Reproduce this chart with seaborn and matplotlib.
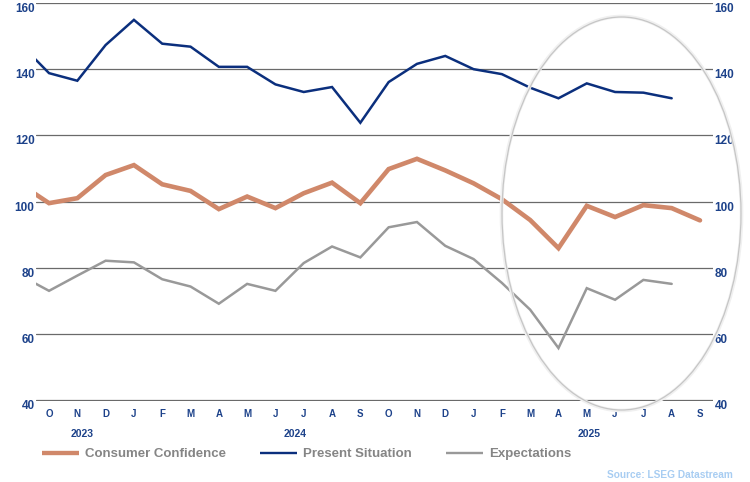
import numpy as np
import pandas as pd
import matplotlib
matplotlib.use("Agg")
import matplotlib.pyplot as plt
from matplotlib.patches import Ellipse
import seaborn as sns

# --- DATA ---
# monthly points, Sep 2023 .. Sep 2025 (Sep 2023 sits just outside the left edge)
month_labels = ["S", "O", "N", "D", "J", "F", "M", "A", "M", "J", "J", "A", "S",
                "O", "N", "D", "J", "F", "M", "A", "M", "J", "J", "A", "S"]
consumer_confidence = [105.2, 99.5, 101.0, 108.0, 111.0, 105.2, 103.2, 97.7, 101.5, 98.0,
                       102.5, 105.7, 99.5, 109.8, 112.9, 109.4, 105.5, 100.7, 94.4, 85.9,
                       98.7, 95.3, 98.9, 98.0, 94.3]
present_situation = [147.5, 138.8, 136.5, 147.3, 154.9, 147.7, 146.8, 140.7, 140.7, 135.4,
                     133.1, 134.6, 123.8, 136.1, 141.6, 144.0, 140.0, 138.5, 134.4, 131.2,
                     135.7, 133.1, 132.9, 131.2, np.nan]
expectations = [77.6, 73.0, 77.6, 82.1, 81.6, 76.5, 74.3, 69.1, 75.1, 73.0,
                81.4, 86.4, 83.1, 92.2, 93.8, 86.6, 82.6, 75.4, 67.3, 55.7,
                73.8, 70.3, 76.3, 75.1, np.nan]
year_labels = ["2023", "2024", "2025"]
year_x = [1.17, 8.7, 19.1]
y_ticks = [40, 60, 80, 100, 120, 140, 160]
source_text = "Source: LSEG Datastream"

# --- STYLE ---
NAVY_TXT = "#1d428a"
SERIES = ["Consumer Confidence", "Present Situation", "Expectations"]
COLORS = {"Consumer Confidence": "#d0886a",
          "Present Situation": "#0b2f7d",
          "Expectations": "#999999"}
WIDTHS = {"Consumer Confidence": 3.3, "Present Situation": 1.8, "Expectations": 1.8}

sns.set_style("white")
plt.rcParams["font.family"] = ["Liberation Sans", "DejaVu Sans"]

x = np.arange(-1, len(month_labels) - 1)
df = pd.DataFrame({
    "x": np.tile(x, 3),
    "value": consumer_confidence + present_situation + expectations,
    "series": [s for s in SERIES for _ in x],
})

fig = plt.figure(figsize=(7.5, 4.82), dpi=100)
ax = fig.add_axes([36 / 750, 1 - 400.5 / 482, (713 - 36) / 750, (400.5 - 3) / 482])

for name in ["Expectations", "Consumer Confidence", "Present Situation"]:
    sns.lineplot(data=df[df["series"] == name], x="x", y="value", ax=ax,
                 color=COLORS[name], linewidth=WIDTHS[name], label=name,
                 solid_joinstyle="miter")

ax.set_xlim(-0.46, 23.46)
ax.set_ylim(39.85, 160)
ax.set_yticks(y_ticks)
ax.yaxis.grid(True, color="#6a6a6a", linewidth=0.9)
ax.xaxis.grid(False)
for s in ax.spines.values():
    s.set_visible(False)
ax.set_xlabel("")
ax.set_ylabel("")

ax.set_xticks(x[1:])
ax.set_xticklabels(month_labels[1:], fontsize=7, fontweight="bold", color=NAVY_TXT)
ax.tick_params(axis="x", length=0, pad=6)
ax.tick_params(axis="y", length=0, labelleft=True, labelright=True, pad=1,
               labelsize=8.5, labelcolor=NAVY_TXT)
for t in ax.yaxis.get_major_ticks():
    for lab in (t.label1, t.label2):
        lab.set_fontweight("bold")
        lab.set_va("top")

for yl, yx in zip(year_labels, year_x):
    ax.text(yx, -0.085, yl, transform=ax.get_xaxis_transform(), ha="center", va="center",
            fontsize=7.5, fontweight="bold", color=NAVY_TXT)

# legend along the bottom
handles, labels = ax.get_legend_handles_labels()
order = [labels.index(n) for n in SERIES]
ax.legend_.remove()
leg = fig.legend([handles[i] for i in order], [labels[i] for i in order],
                 loc="center left", bbox_to_anchor=(42 / 750, 1 - 454 / 482), ncol=3,
                 frameon=False, handlelength=2.8, handletextpad=0.45, columnspacing=2.6,
                 prop={"size": 9.5, "weight": "bold"}, borderaxespad=0, borderpad=0)
for txt in leg.get_texts():
    txt.set_color("#858585")
for h, name in zip(leg.legend_handles, SERIES):
    h.set_linewidth(WIDTHS[name] * 0.95)
    h.set_solid_capstyle("butt")

fig.text(733 / 750, 1 - 475 / 482, source_text, ha="right", va="center",
         fontsize=7.3, fontweight="bold", color="#a8cdf2")

# highlight ellipse around the latest months
centre = (621.5 / 750, 1 - 213.5 / 482)
fig.add_artist(Ellipse(centre, 240 / 750, 394 / 482, transform=fig.transFigure,
                       fill=False, edgecolor="#f0f0f0", linewidth=2.6))
fig.add_artist(Ellipse(centre, 239 / 750, 393 / 482, transform=fig.transFigure,
                       fill=False, edgecolor="#c6c6c6", linewidth=0.9))

fig.savefig("out.png", dpi=100)
